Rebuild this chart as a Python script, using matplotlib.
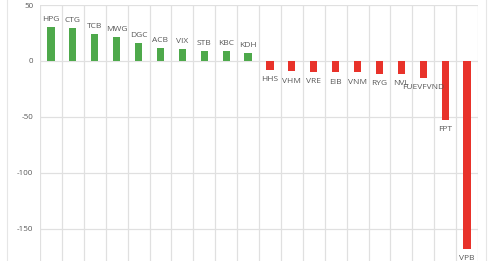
import matplotlib
matplotlib.use("Agg")
import matplotlib.pyplot as plt
import numpy as np
from matplotlib.lines import Line2D

categories = ["HPG", "CTG", "TCB", "MWG", "DGC", "ACB", "VIX", "STB", "KBC", "KDH",
              "HHS", "VHM", "VRE", "EIB", "VNM", "RYG", "NVL", "FUEVFVND", "FPT", "VPB"]
values = [30, 29.5, 24, 21, 16, 11.3, 10.4, 9.2, 8.6, 7.1,
          -8, -9.2, -9.8, -10.1, -10.1, -11.3, -11.6, -14.9, -52.7, -167.9]
yticks = [50, 0, -50, -100, -150]

plt.rcParams['font.family'] = ['Open Sans', 'DejaVu Sans']

fig = plt.figure(figsize=(4.97, 2.61), dpi=100)
ax = fig.add_axes([40/497, 0, 438/497, 1 - 5/261])

x = np.arange(len(categories))
colors = ["#4EA94B" if v >= 0 else "#E8322A" for v in values]
ax.bar(x, values, width=0.33, color=colors, zorder=3)

ax.set_xlim(-0.5, len(categories) - 0.5)
ax.set_ylim(-178.6, 50)
ax.set_yticks(yticks)
ax.set_yticklabels([str(t) for t in yticks], fontsize=5.8, color="#595959")
ax.tick_params(axis='y', length=0, pad=5)
ax.set_xticks(np.arange(len(categories) + 1) - 0.5)
ax.set_xticklabels([])
ax.tick_params(axis='x', length=0)
ax.grid(True, color="#e0e0e0", linewidth=0.9, zorder=0)
for s in ax.spines.values():
    s.set_visible(False)

for xi, (c, v) in enumerate(zip(categories, values)):
    if v >= 0:
        ax.annotate(c, (xi, v), xytext=(0, 3), textcoords="offset points",
                    ha="center", va="bottom", fontsize=6, color="#595959")
    else:
        ax.annotate(c, (xi, v), xytext=(0, -4.5), textcoords="offset points",
                    ha="center", va="top", fontsize=6, color="#595959")

fig.add_artist(Line2D([7/497, 7/497], [0, 1], color="#e6e6e6", linewidth=0.8))
fig.add_artist(Line2D([486/497, 486/497], [0, 1], color="#e6e6e6", linewidth=0.8))

fig.savefig("out.png", dpi=100)
